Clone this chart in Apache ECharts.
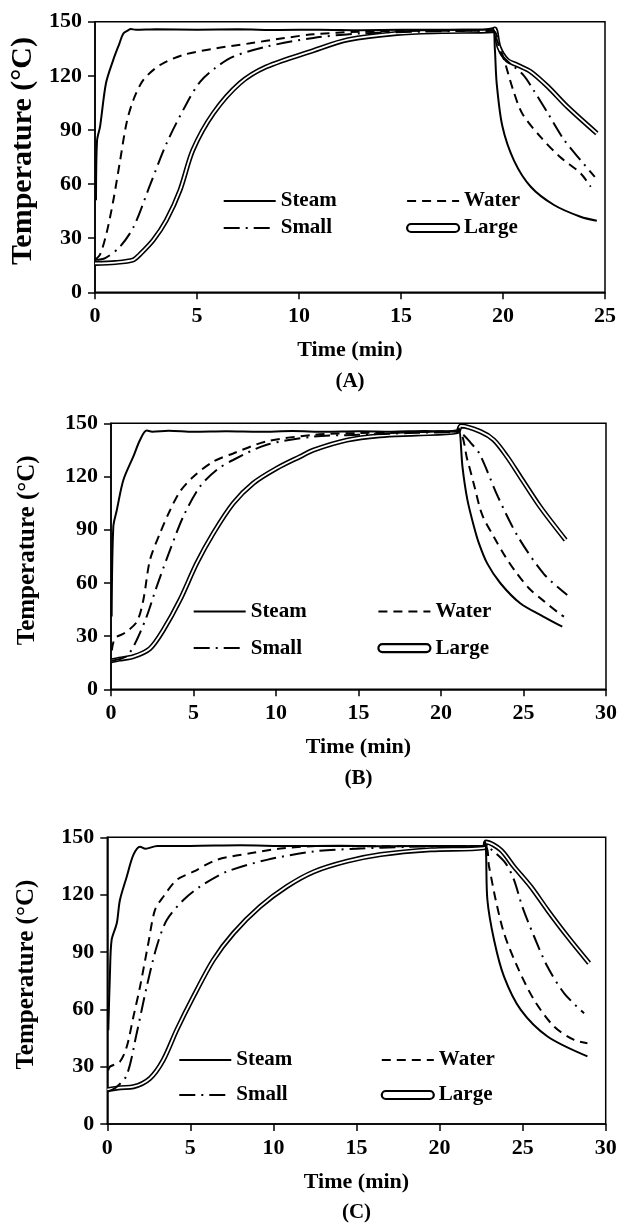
<!DOCTYPE html>
<html>
<head>
<meta charset="utf-8">
<script src="https://cdn.jsdelivr.net/npm/echarts@6/dist/echarts.min.js"></script>
<style>
html,body{margin:0;padding:0;background:#fff;}
#chart{width:628px;height:1227px;}
</style>
</head>
<body>
<div id="chart"></div>
<script>
// ---------- tick labels / axes ----------
const yTicks = [0, 30, 60, 90, 120, 150];
const xMaxA = 25, xMaxB = 30, xMaxC = 30;
const panelLabels = ['(A)', '(B)', '(C)'];
const seriesNames = ['Steam', 'Water', 'Small', 'Large'];
const xTitle = 'Time (min)';
const yTitle = 'Temperature (°C)';

// ---------- data: [time (min), temperature (°C)] ----------
// Panel A
const steamA = [[0.05,51],[0.1,84],[0.25,92],[0.54,116],[0.9,129],[1.2,138],[1.39,143.5],[1.6,145],[1.75,146],[2,145.5],[3,145.8],[5,145.6],[7,145.8],[9,145.4],[11,145.6],[13,145.3],[15,145.5],[17,145.6],[19,145.5],[19.5,146.3],[19.6,135],[19.69,116],[19.97,92],[20.54,73],[21.36,58.5],[22.5,48.4],[23.8,41.9],[24.6,39.7]];
const waterA = [[0,18],[0.25,21],[0.57,33],[0.9,51],[1.23,73],[1.55,94],[1.88,106.6],[2.37,117.7],[3.19,126],[4.33,131.6],[5.96,135.3],[7.6,138],[9.2,140.8],[10.7,143],[13,144.5],[16,145],[19.5,145],[19.7,140],[20.05,129],[20.5,112],[20.95,99],[21.85,86],[22.8,75],[23.8,66],[24.3,58.5]];
const smallA = [[0,18],[0.5,19],[1.2,25],[1.88,36],[2.7,59.5],[3.51,82.6],[4.5,104.8],[5.15,116.7],[5.88,124.2],[6.78,130.6],[8.4,136.2],[10.7,141],[13,143.5],[16,144.5],[19.5,145],[19.9,132],[21.0,120.4],[21.5,112],[22.2,99.2],[23.0,84.4],[23.8,73.3],[24.5,64]];
const largeA = [[0,16],[1,16.5],[1.88,18],[2.2,21],[2.86,29],[3.5,40],[4.17,56.7],[4.8,78.9],[5.8,99.2],[7.1,115.9],[8.4,125],[10.7,134],[12.4,140],[14.8,143.5],[17,144.5],[19.5,145],[19.6,146],[19.8,136],[20.2,128.8],[20.7,126],[21.36,122.3],[22.2,114],[23.15,102.9],[24.6,88.1]];
// Panel B
const steamB = [[0.04,41],[0.14,91.7],[0.35,101],[0.75,118],[1.35,131.2],[1.76,140.6],[2.16,145.9],[2.5,145.3],[3.5,145.8],[5,145.2],[7,145.5],[9,145.2],[11,145.6],[13,145.2],[15,145.5],[17,145.3],[19,145.6],[21,145.3],[21.1,147],[21.3,125.6],[21.6,106.8],[22.0,91.7],[22.3,82.3],[22.8,71],[23.6,59.8],[24.8,48.5],[26.2,41],[27.35,35.3]];
const waterB = [[0.05,22],[0.24,28.8],[0.8,31.6],[1.56,38],[1.96,50.4],[2.36,72.9],[2.97,88],[3.58,101],[4.18,111.5],[4.99,119.9],[6.2,128.4],[7.4,133],[9.4,139.7],[12.3,143.5],[15,144.5],[18,145],[21,145.5],[21.6,129.3],[22.04,113.9],[22.5,98.3],[23.25,85.2],[23.9,74.8],[24.56,65.8],[25.33,57],[26.2,50],[27.15,42.9],[27.45,41]];
const smallB = [[0,16],[0.5,17],[1.0,19],[1.56,27.8],[2.16,41],[2.77,57.9],[3.58,78.6],[4.38,97.4],[5.39,114.3],[6.4,123.7],[7.4,129.3],[9.4,137.8],[12.3,142.5],[15,143.5],[18,144.5],[21,145],[21.3,144],[21.8,139],[22.35,132.5],[23.45,108.6],[24.67,86],[26.24,65],[27.65,53.2]];
const largeB = [[0,16],[0.5,17],[1.35,18.4],[2.36,23],[3.17,33.4],[4.18,50.4],[5.19,71],[6.2,88],[7.41,104.9],[8.62,116.2],[10.04,124.6],[11.45,131.2],[12.3,135],[14.3,140.5],[16.3,143],[18.5,144],[21.0,145.3],[21.2,148.5],[22.4,145.3],[23.2,140.6],[24.0,131.2],[24.8,119.9],[26.0,103],[27.55,84.2]];
// Panel C
const steamC = [[0.06,49],[0.16,78.9],[0.26,96.3],[0.57,105],[0.76,117.2],[1.17,129.4],[1.57,140.8],[1.97,145.1],[2.3,144],[3,145.5],[5,145.5],[8,145.8],[11,145.4],[14,145.6],[17,145.3],[20,145.5],[22.6,145.3],[22.75,147.5],[22.8,141.6],[22.88,117.2],[23.28,96.3],[23.88,77.1],[24.89,59.7],[26.5,45.8],[28.9,35.4]];
const waterC = [[0.05,28],[0.16,30],[0.76,32.6],[1.17,40.4],[1.57,56.1],[1.97,71.8],[2.47,94.6],[2.87,112],[3.37,118.9],[4.18,127.7],[5.18,132],[6.59,138.2],[8.59,141.6],[10.6,144.3],[13,145.5],[16,145.3],[20,145.5],[22.7,145.5],[22.98,134.6],[23.38,117.2],[23.88,99.8],[24.68,82.3],[25.69,64.9],[26.9,50.9],[28.1,44],[28.9,42.2]];
const smallC = [[0,17],[0.5,19],[1.17,25.6],[1.77,47.5],[2.37,71.8],[2.97,92.7],[3.58,106.7],[4.58,117.2],[5.58,124.2],[7.19,132],[9.6,138.2],[12.44,142.6],[15,144],[18,145],[22.7,145.5],[23.2,143],[23.98,136.4],[24.48,127.7],[24.98,113.7],[25.69,98.1],[26.49,82.4],[27.5,68.4],[28.7,57.9]];
const largeC = [[0,18],[0.8,19],[1.57,19.5],[2.57,23.9],[3.37,33.5],[4.18,49.2],[5.18,66.6],[6.38,85.8],[7.59,99.8],[9.19,113.7],[10.8,124.2],[12.44,132],[14.45,137.5],[16.46,141],[19.47,143.5],[22.68,144.5],[22.8,147.5],[23.68,143.4],[24.48,134.6],[25.49,124.2],[26.49,112],[27.7,98.1],[29.0,84.2]];

// ---------- layout ----------
const FONT = "'Liberation Serif', 'Times New Roman', serif";
const panels = [
  {grid:{left:95, top:21.7, width:510, height:270.6}, xMax:xMaxA, data:[steamA, waterA, smallA, largeA], yNameSize:30, yNameGap:53,
   leg1:{left:222.7, top:190.5}, leg2:{left:406, top:190.5}, legGap:6, label:{x:350, y:371}},
  {grid:{left:111, top:423.3, width:495, height:266}, xMax:xMaxB, data:[steamB, waterB, smallB, largeB], yNameSize:25, yNameGap:71,
   leg1:{left:192.7, top:601}, leg2:{left:377.3, top:601}, legGap:15.6, label:{x:358.5, y:768}},
  {grid:{left:107.3, top:837.3, width:498.4, height:286.7}, xMax:xMaxC, data:[steamC, waterC, smallC, largeC], yNameSize:25, yNameGap:68,
   leg1:{left:178.3, top:1049.5}, leg2:{left:380.7, top:1049.5}, legGap:14, label:{x:356.5, y:1202}}
];

const lineStyles = [
  {color:'#000', width:2, type:'solid'},
  {color:'#000', width:2, type:[9,6]},
  {color:'#000', width:2, type:[16,6,2,6]}
];
const largeIcon = 'path://M4,0 L48,0 A4,4 0 0 1 48,8 L4,8 A4,4 0 0 1 4,0 Z';

const option = {backgroundColor:'#fff', animation:false, grid:[], xAxis:[], yAxis:[], series:[], legend:[], title:[]};

panels.forEach((p, i) => {
  option.grid.push(Object.assign({show:true, borderColor:'#000', borderWidth:1.5, backgroundColor:'transparent'}, p.grid));
  option.xAxis.push({
    type:'value', gridIndex:i, min:0, max:p.xMax, interval:5,
    name:xTitle, nameLocation:'middle', nameGap:47,
    nameTextStyle:{fontFamily:FONT, fontWeight:'bold', fontSize:22, color:'#000'},
    axisLine:{show:true, onZero:false, lineStyle:{color:'#000', width:1.5}},
    axisTick:{show:true, inside:false, length:7, lineStyle:{color:'#000', width:1.5}},
    axisLabel:{fontFamily:FONT, fontWeight:'bold', fontSize:22, color:'#000', margin:13},
    splitLine:{show:false}
  });
  option.yAxis.push({
    type:'value', gridIndex:i, min:yTicks[0], max:yTicks[yTicks.length-1], interval:yTicks[1]-yTicks[0],
    name:yTitle, nameLocation:'middle', nameGap:p.yNameGap,
    nameTextStyle:{fontFamily:FONT, fontWeight:'bold', fontSize:p.yNameSize, color:'#000', padding:[0,0,0,12]},
    axisLine:{show:true, onZero:false, lineStyle:{color:'#000', width:1.5}},
    axisTick:{show:true, inside:false, length:7, lineStyle:{color:'#000', width:1.5}},
    axisLabel:{fontFamily:FONT, fontWeight:'bold', fontSize:22, color:'#000', margin:13},
    splitLine:{show:false}
  });
  const [st, wa, sm, la] = p.data;
  const common = {type:'line', xAxisIndex:i, yAxisIndex:i, symbol:'none', smooth:0.3, silent:true};
  option.series.push(Object.assign({}, common, {name:'Large', data:la, lineStyle:{color:'#000', width:5}, itemStyle:{color:'#000'}, z:2}));
  option.series.push(Object.assign({}, common, {name:'Large inner', data:la, lineStyle:{color:'#fff', width:1.8}, itemStyle:{color:'#fff'}, z:3}));
  option.series.push(Object.assign({}, common, {name:'Steam', data:st, lineStyle:lineStyles[0], itemStyle:{color:'#000'}, z:4}));
  option.series.push(Object.assign({}, common, {name:'Water', data:wa, lineStyle:lineStyles[1], itemStyle:{color:'#000'}, z:4}));
  option.series.push(Object.assign({}, common, {name:'Small', data:sm, lineStyle:lineStyles[2], itemStyle:{color:'#000'}, z:4}));

  const legBase = {orient:'vertical', itemWidth:52, itemHeight:8, padding:0, itemGap:p.legGap, selectedMode:false,
    itemStyle:{color:'transparent', borderColor:'transparent', borderWidth:0},
    textStyle:{fontFamily:FONT, fontWeight:'bold', fontSize:21, color:'#000'}};
  option.legend.push(Object.assign({}, legBase, p.leg1, {data:['Steam','Small']}));
  option.legend.push(Object.assign({}, legBase, p.leg2, {data:['Water', {name:'Large', icon:largeIcon, itemStyle:{color:'#fff', borderColor:'#000', borderWidth:2.2}}]}));

  option.title.push({text:panelLabels[i], left:p.label.x, top:p.label.y, textAlign:'center', padding:0,
    textStyle:{fontFamily:FONT, fontWeight:'bold', fontSize:21, color:'#000'}});
});

const chart = echarts.init(document.getElementById('chart'), null, {renderer:'canvas'});
chart.setOption(option);
</script>
</body>
</html>
